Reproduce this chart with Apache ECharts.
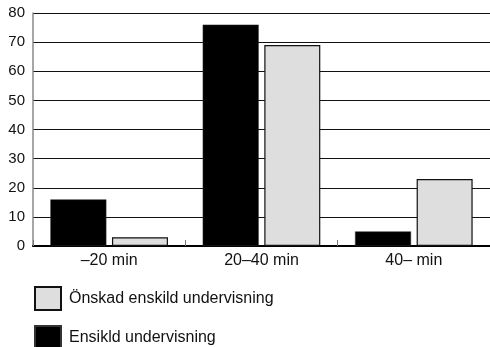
<!DOCTYPE html>
<html>
<head>
<meta charset="utf-8">
<script src="https://cdn.jsdelivr.net/npm/echarts@6/dist/echarts.min.js"></script>
<style>
html, body { margin: 0; padding: 0; background: #fff; }
#chart { width: 490px; height: 347px; }
</style>
</head>
<body>
<div id="chart"></div>
<script>
var categories = ['\u201320 min', '20\u201340 min', '40\u2013 min'];
var ensikld = [16, 76, 5];
var onskad = [3, 69, 23];
var yTicks = { min: 0, max: 80, interval: 10 };

var chart = echarts.init(document.getElementById('chart'));
var font = '"Liberation Sans", Arial, sans-serif';

var option = {
  backgroundColor: '#ffffff',
  animation: false,
  grid: {
    left: 33,
    right: 0,
    top: 13,
    bottom: 101
  },
  legend: {
    orient: 'vertical',
    left: 34,
    top: 286,
    padding: 0,
    height: 70,
    icon: 'rect',
    itemWidth: 26,
    itemHeight: 23,
    itemGap: 14,
    data: ['Önskad enskild undervisning', 'Ensikld undervisning'],
    textStyle: {
      fontFamily: font,
      fontSize: 16,
      color: '#111',
      padding: [0, 0, 0, 3]
    }
  },
  xAxis: [{
    type: 'category',
    data: categories,
    axisLine: {
      lineStyle: { color: '#000', width: 2 }
    },
    axisTick: {
      show: true,
      inside: true,
      length: 6,
      lineStyle: { color: '#777', width: 1 }
    },
    axisLabel: {
      margin: 7,
      fontFamily: font,
      fontSize: 16,
      color: '#111'
    }
  }],
  yAxis: [{
    type: 'value',
    min: yTicks.min,
    max: yTicks.max,
    interval: yTicks.interval,
    axisLine: {
      show: true,
      lineStyle: { color: '#888', width: 1.5 }
    },
    axisTick: { show: false },
    axisLabel: {
      margin: 8,
      fontFamily: font,
      fontSize: 15,
      color: '#111'
    },
    splitLine: {
      lineStyle: { color: '#111', width: 1.2 }
    }
  }],
  series: [{
    name: 'Ensikld undervisning',
    type: 'bar',
    barWidth: 56,
    barGap: '10%',
    itemStyle: {
      color: '#000000',
      borderColor: '#333',
      borderWidth: 0.5
    },
    data: ensikld
  }, {
    name: 'Önskad enskild undervisning',
    type: 'bar',
    barWidth: 56,
    itemStyle: {
      color: '#dedede',
      borderColor: '#111',
      borderWidth: 1.2
    },
    data: onskad
  }]
};

chart.setOption(option);
</script>
</body>
</html>
